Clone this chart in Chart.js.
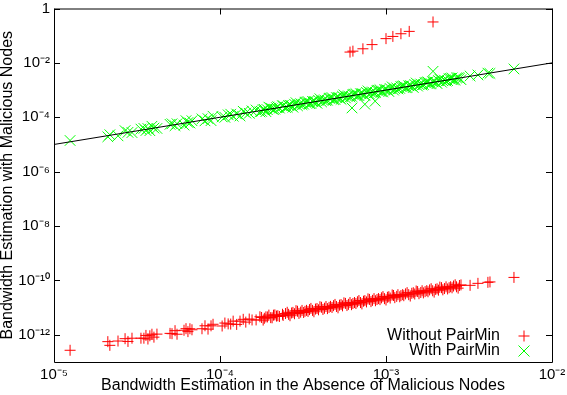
<!DOCTYPE html>
<html>
<head>
<meta charset="utf-8">
<script src="https://cdn.jsdelivr.net/npm/chart.js@4"></script>
<style>
  html, body { margin: 0; padding: 0; background: #fff; }
  canvas { display: block; }
</style>
</head>
<body>
<canvas id="myChart" width="567" height="395"></canvas>
<script>
// Datos (escala log-log)
const seriesNames = ['Without PairMin', 'With PairMin'];

// Ancho de banda sin nodos maliciosos (eje X), común a ambas series
const nodeX = [1.25e-5, 2.11e-5, 2.17e-5, 2.43e-5, 2.68e-5, 2.79e-5, 2.95e-5, 3.34e-5,
  3.48e-5, 3.58e-5, 3.68e-5, 3.78e-5, 3.89e-5, 4.00e-5, 4.17e-5, 5.00e-5,
  5.14e-5, 5.36e-5, 5.51e-5, 6.07e-5, 6.24e-5, 6.41e-5, 6.59e-5, 6.78e-5,
  7.79e-5, 8.12e-5, 8.47e-5, 8.83e-5, 9.08e-5, 1.03e-4, 1.07e-4, 1.12e-4,
  1.16e-4, 1.20e-4, 1.26e-4, 1.32e-4, 1.38e-4, 1.43e-4, 1.50e-4, 1.56e-4,
  1.65e-4, 1.74e-4, 1.82e-4, 1.89e-4, 1.97e-4, 2.06e-4, 2.14e-4, 2.23e-4,
  2.40e-4, 2.54e-4, 2.64e-4, 2.75e-4, 2.87e-4, 2.99e-4, 3.12e-4, 3.25e-4,
  3.39e-4, 3.53e-4, 3.68e-4, 3.84e-4, 4.00e-4, 4.17e-4, 4.35e-4, 4.54e-4,
  4.73e-4, 4.93e-4, 5.14e-4, 5.36e-4, 5.58e-4, 5.82e-4, 6.07e-4, 6.32e-4,
  6.59e-4, 6.87e-4, 7.16e-4, 7.46e-4, 7.79e-4, 8.12e-4, 8.47e-4, 8.83e-4,
  9.20e-4, 9.59e-4, 1.00e-3, 1.04e-3, 1.09e-3, 1.13e-3, 1.18e-3, 1.23e-3,
  1.28e-3, 1.34e-3, 1.40e-3, 1.46e-3, 1.52e-3, 1.58e-3, 1.65e-3, 1.72e-3,
  1.79e-3, 1.87e-3, 1.95e-3, 2.03e-3, 2.11e-3, 2.20e-3, 2.30e-3, 2.40e-3,
  2.50e-3, 2.61e-3, 2.72e-3, 2.83e-3, 3.21e-3, 3.58e-3, 4.11e-3, 4.23e-3,
  5.90e-3];
// Nodos de la zona densa (segunda tanda)
const denseX = [1.78e-4, 1.85e-4, 1.93e-4, 2.02e-4, 2.10e-4, 2.19e-4, 2.28e-4, 2.38e-4,
  2.48e-4, 2.59e-4, 2.70e-4, 2.81e-4, 2.93e-4, 3.06e-4, 3.19e-4, 3.32e-4,
  3.46e-4, 3.61e-4, 3.76e-4, 3.92e-4, 4.09e-4, 4.26e-4, 4.44e-4, 4.63e-4,
  4.83e-4, 5.03e-4, 5.25e-4, 5.47e-4, 5.70e-4, 5.94e-4, 6.20e-4, 6.46e-4,
  6.73e-4, 7.02e-4, 7.32e-4, 7.63e-4, 7.95e-4, 8.29e-4, 8.64e-4, 9.01e-4,
  9.39e-4, 9.79e-4, 1.02e-3, 1.06e-3, 1.11e-3, 1.16e-3, 1.21e-3, 1.26e-3,
  1.31e-3, 1.37e-3, 1.43e-3, 1.49e-3, 1.55e-3, 1.62e-3, 1.68e-3, 1.76e-3,
  1.83e-3, 1.91e-3, 1.99e-3, 2.07e-3, 2.16e-3, 2.25e-3, 2.35e-3, 2.45e-3,
  2.55e-3, 2.66e-3, 2.77e-3];

// With PairMin (verde)
const withY = [1.40e-5, 1.92e-5, 2.28e-5, 2.07e-5, 3.22e-5, 2.79e-5, 2.74e-5, 3.67e-5,
  3.90e-5, 3.26e-5, 3.86e-5, 3.21e-5, 4.67e-5, 4.00e-5, 3.88e-5, 5.50e-5,
  5.76e-5, 4.88e-5, 5.79e-5, 5.16e-5, 7.49e-5, 6.41e-5, 6.13e-5, 7.46e-5,
  8.72e-5, 7.39e-5, 8.89e-5, 7.51e-5, 1.09e-4, 1.03e-4, 9.95e-5, 1.23e-4,
  1.30e-4, 1.09e-4, 1.32e-4, 1.12e-4, 1.66e-4, 1.43e-4, 1.40e-4, 1.72e-4,
  1.85e-4, 1.58e-4, 1.91e-4, 1.61e-4, 2.36e-4, 2.06e-4, 1.99e-4, 2.45e-4,
  2.69e-4, 2.31e-4, 2.77e-4, 2.34e-4, 3.44e-4, 2.99e-4, 2.90e-4, 3.58e-4,
  3.80e-4, 3.21e-4, 3.86e-4, 3.26e-4, 4.80e-4, 4.17e-4, 4.05e-4, 4.99e-4,
  5.30e-4, 4.49e-4, 5.40e-4, 4.56e-4, 6.70e-4, 5.82e-4, 5.65e-4, 6.95e-4,
  7.38e-4, 6.25e-4, 7.52e-4, 6.34e-4, 9.35e-4, 8.12e-4, 7.88e-4, 9.71e-4,
  1.03e-3, 8.73e-4, 1.05e-3, 8.84e-4, 1.31e-3, 1.13e-3, 1.10e-3, 1.35e-3,
  1.43e-3, 1.22e-3, 1.47e-3, 1.24e-3, 1.82e-3, 1.58e-3, 1.53e-3, 1.89e-3,
  2.00e-3, 1.70e-3, 2.05e-3, 1.73e-3, 2.53e-3, 2.20e-3, 2.14e-3, 2.64e-3,
  2.80e-3, 2.38e-3, 2.86e-3, 2.41e-3, 3.30e-3, 3.60e-3, 4.20e-3, 4.10e-3,
  6.00e-3];
const withDenseY = [1.64e-4, 1.94e-4, 1.89e-4, 2.18e-4, 1.89e-4, 2.26e-4, 2.17e-4, 2.62e-4,
  2.28e-4, 2.72e-4, 2.65e-4, 3.03e-4, 2.64e-4, 3.15e-4, 3.03e-4, 3.65e-4,
  3.18e-4, 3.79e-4, 3.68e-4, 4.23e-4, 3.68e-4, 4.39e-4, 4.22e-4, 5.09e-4,
  4.44e-4, 5.28e-4, 5.15e-4, 5.91e-4, 5.13e-4, 6.12e-4, 5.89e-4, 7.11e-4,
  6.19e-4, 7.37e-4, 7.17e-4, 8.24e-4, 7.16e-4, 8.54e-4, 8.21e-4, 9.91e-4,
  8.64e-4, 1.03e-3, 1.00e-3, 1.14e-3, 9.99e-4, 1.19e-3, 1.15e-3, 1.39e-3,
  1.21e-3, 1.44e-3, 1.40e-3, 1.61e-3, 1.40e-3, 1.67e-3, 1.60e-3, 1.94e-3,
  1.68e-3, 2.01e-3, 1.95e-3, 2.24e-3, 1.94e-3, 2.32e-3, 2.23e-3, 2.70e-3,
  2.35e-3, 2.79e-3, 2.71e-3];
const withExtraX = [6.24e-4, 7.46e-4, 8.60e-4, 1.92e-3];
const withExtraY = [2.2e-4, 3.0e-4, 3.9e-4, 4.9e-3];

// Without PairMin (rojo)
const withoutY = [2.7e-13, 5.6e-13, 4.1e-13, 5.9e-13, 7.2e-13, 5.7e-13, 7.5e-13, 7.5e-13,
  7.5e-13, 9.5e-13, 7.0e-13, 9.2e-13, 1.05e-12, 8.2e-13, 1.06e-12, 1.13e-12,
  1.10e-12, 1.42e-12, 1.05e-12, 1.47e-12, 1.68e-12, 1.31e-12, 1.67e-12, 1.53e-12,
  1.67e-12, 2.15e-12, 1.62e-12, 2.14e-12, 2.44e-12, 2.11e-12, 2.71e-12, 2.52e-12,
  2.48e-12, 3.18e-12, 2.41e-12, 3.19e-12, 3.71e-12, 2.93e-12, 3.80e-12, 3.51e-12,
  3.53e-12, 4.61e-12, 3.48e-12, 4.57e-12, 5.30e-12, 4.22e-12, 5.41e-12, 5.02e-12,
  5.14e-12, 6.73e-12, 5.04e-12, 6.66e-12, 7.72e-12, 6.13e-12, 7.89e-12, 7.31e-12,
  7.25e-12, 9.35e-12, 7.03e-12, 9.29e-12, 1.08e-11, 8.55e-12, 1.10e-11, 1.02e-11,
  1.01e-11, 1.31e-11, 9.82e-12, 1.30e-11, 1.50e-11, 1.19e-11, 1.54e-11, 1.42e-11,
  1.41e-11, 1.82e-11, 1.37e-11, 1.81e-11, 2.10e-11, 1.66e-11, 2.14e-11, 1.99e-11,
  1.97e-11, 2.54e-11, 1.91e-11, 2.52e-11, 2.93e-11, 2.32e-11, 2.99e-11, 2.77e-11,
  2.74e-11, 3.55e-11, 2.67e-11, 3.53e-11, 4.09e-11, 3.24e-11, 4.17e-11, 3.87e-11,
  3.83e-11, 4.96e-11, 3.72e-11, 4.91e-11, 5.68e-11, 4.51e-11, 5.82e-11, 5.40e-11,
  5.35e-11, 6.92e-11, 5.20e-11, 6.85e-11, 6.6e-11, 7.8e-11, 8.5e-11, 8.8e-11,
  1.29e-10];
const withoutDenseY = [4.34e-12, 4.05e-12, 4.54e-12, 4.28e-12, 5.27e-12, 4.88e-12, 4.72e-12, 5.69e-12,
  6.05e-12, 5.67e-12, 6.35e-12, 5.96e-12, 7.35e-12, 6.82e-12, 6.60e-12, 7.93e-12,
  8.44e-12, 7.91e-12, 8.84e-12, 8.31e-12, 1.03e-11, 9.50e-12, 9.19e-12, 1.11e-11,
  1.18e-11, 1.10e-11, 1.23e-11, 1.16e-11, 1.43e-11, 1.32e-11, 1.28e-11, 1.54e-11,
  1.64e-11, 1.54e-11, 1.72e-11, 1.62e-11, 2.00e-11, 1.85e-11, 1.79e-11, 2.15e-11,
  2.29e-11, 2.14e-11, 2.40e-11, 2.25e-11, 2.79e-11, 2.59e-11, 2.50e-11, 3.01e-11,
  3.20e-11, 3.00e-11, 3.36e-11, 3.16e-11, 3.89e-11, 3.61e-11, 3.48e-11, 4.21e-11,
  4.47e-11, 4.18e-11, 4.68e-11, 4.39e-11, 5.42e-11, 5.02e-11, 4.86e-11, 5.86e-11,
  6.22e-11, 5.83e-11, 6.51e-11];
const withoutExtraX = [6.07e-4, 6.32e-4, 7.26e-4, 8.24e-4, 1.00e-3, 1.10e-3, 1.23e-3, 1.38e-3, 1.92e-3];
const withoutExtraY = [2.5e-2, 2.7e-2, 3.3e-2, 4.7e-2, 7.8e-2, 9.4e-2, 1.18e-1, 1.44e-1, 3.2e-1];

// Recta y = x
const refLineX = [1e-5, 1e-2];
const refLineY = [1e-5, 1e-2];

// Marcas de los ejes
const xTickValues = [1e-5, 1e-4, 1e-3, 1e-2];
const xTickLabels = ['10⁻⁵', '10⁻⁴', '10⁻³', '10⁻²'];
const yTickValues = [1e-12, 1e-10, 1e-8, 1e-6, 1e-4, 1e-2, 1];
const yTickLabels = ['10⁻¹²', '10⁻¹⁰', '10⁻⁸', '10⁻⁶', '10⁻⁴', '10⁻²', '1'];

const FONT = '"Liberation Sans", Arial, Helvetica, sans-serif';

function toPoints(xs, ys) {
    return xs.map((x, i) => ({ x: x, y: ys[i] }));
}

// Marco con marcas hacia dentro (estilo gnuplot)
const framePlugin = {
    id: 'frame',
    afterDatasetsDraw(chart) {
        const { ctx, chartArea: a, scales } = chart;
        ctx.save();
        ctx.strokeStyle = '#000';
        ctx.lineWidth = 1;
        ctx.beginPath();
        ctx.rect(a.left + 0.5, a.top + 0.5, a.right - a.left, a.bottom - a.top);
        xTickValues.forEach(v => {
            const px = Math.round(scales.x.getPixelForValue(v)) + 0.5;
            ctx.moveTo(px, a.bottom); ctx.lineTo(px, a.bottom - 6);
            ctx.moveTo(px, a.top); ctx.lineTo(px, a.top + 6);
        });
        yTickValues.forEach(v => {
            const py = Math.round(scales.y.getPixelForValue(v)) + 0.5;
            ctx.moveTo(a.left, py); ctx.lineTo(a.left + 6, py);
            ctx.moveTo(a.right, py); ctx.lineTo(a.right - 6, py);
        });
        ctx.stroke();
        ctx.restore();
    }
};

// Leyenda dentro del área, abajo a la derecha
const legendPlugin = {
    id: 'gnuLegend',
    afterDraw(chart) {
        const ctx = chart.ctx;
        const a = chart.chartArea;
        const textX = a.right - 52;
        const markX = a.right - 28;
        const rows = [a.bottom - 26, a.bottom - 11];
        ctx.save();
        ctx.font = '16px ' + FONT;
        ctx.fillStyle = '#000';
        ctx.textAlign = 'right';
        ctx.textBaseline = 'middle';
        seriesNames.forEach((name, i) => ctx.fillText(name, textX, rows[i]));
        ctx.lineWidth = 1;
        // +
        ctx.strokeStyle = '#ff0000';
        ctx.beginPath();
        ctx.moveTo(markX - 5.5, rows[0]); ctx.lineTo(markX + 5.5, rows[0]);
        ctx.moveTo(markX, rows[0] - 5.5); ctx.lineTo(markX, rows[0] + 5.5);
        ctx.stroke();
        // x
        ctx.strokeStyle = '#00ff00';
        ctx.beginPath();
        ctx.moveTo(markX - 5.5, rows[1] - 5.5); ctx.lineTo(markX + 5.5, rows[1] + 5.5);
        ctx.moveTo(markX - 5.5, rows[1] + 5.5); ctx.lineTo(markX + 5.5, rows[1] - 5.5);
        ctx.stroke();
        ctx.restore();
    }
};

var ctx = document.getElementById('myChart').getContext('2d');
var myChart = new Chart(ctx, {
    type: 'scatter',
    data: {
        datasets: [{
            label: 'y = x',
            data: toPoints(refLineX, refLineY),
            showLine: true,
            borderColor: '#000',
            borderWidth: 1,
            pointRadius: 0,
            order: 0
        }, {
            label: seriesNames[1],
            data: toPoints(nodeX.concat(denseX, withExtraX), withY.concat(withDenseY, withExtraY)),
            pointStyle: 'crossRot',
            pointRadius: 7.5,
            borderColor: '#00ff00',
            backgroundColor: '#00ff00',
            borderWidth: 1,
            order: 1
        }, {
            label: seriesNames[0],
            data: toPoints(nodeX.concat(denseX, withoutExtraX), withoutY.concat(withoutDenseY, withoutExtraY)),
            pointStyle: 'cross',
            pointRadius: 5.5,
            borderColor: '#ff0000',
            backgroundColor: '#ff0000',
            borderWidth: 1,
            order: 2
        }]
    },
    options: {
        responsive: false,
        animation: false,
        layout: { padding: { top: 7, right: 15, left: 0, bottom: 0 } },
        plugins: {
            legend: { display: false },
            tooltip: { enabled: false }
        },
        scales: {
            x: {
                type: 'logarithmic',
                min: 1e-5,
                max: 1e-2,
                grid: { display: false, drawTicks: false },
                border: { display: false },
                afterBuildTicks: s => { s.ticks = xTickValues.map(v => ({ value: v })); },
                afterFit: s => { s.height = 33; s.paddingLeft = 0; s.paddingRight = 0; },
                ticks: {
                    autoSkip: false,
                    maxRotation: 0,
                    padding: 4,
                    color: '#000',
                    font: { family: FONT, size: 15 },
                    callback: (v, i) => xTickLabels[i]
                },
                title: {
                    display: true,
                    text: 'Bandwidth Estimation in the Absence of Malicious Nodes',
                    color: '#000',
                    font: { family: FONT, size: 16 },
                    padding: { top: -3, bottom: 0 }
                }
            },
            y: {
                type: 'logarithmic',
                min: 1e-13,
                max: 1,
                grid: { display: false, drawTicks: false },
                border: { display: false },
                afterBuildTicks: s => { s.ticks = yTickValues.map(v => ({ value: v })); },
                afterFit: s => { s.width = 54; s.paddingTop = 0; s.paddingBottom = 0; },
                ticks: {
                    autoSkip: false,
                    padding: 4,
                    color: '#000',
                    font: { family: FONT, size: 15 },
                    callback: (v, i) => yTickLabels[i]
                },
                title: {
                    display: true,
                    text: 'Bandwidth Estimation with Malicious Nodes',
                    color: '#000',
                    font: { family: FONT, size: 16 },
                    padding: { top: -2, bottom: 0 }
                }
            }
        }
    },
    plugins: [framePlugin, legendPlugin]
});
</script>
</body>
</html>
